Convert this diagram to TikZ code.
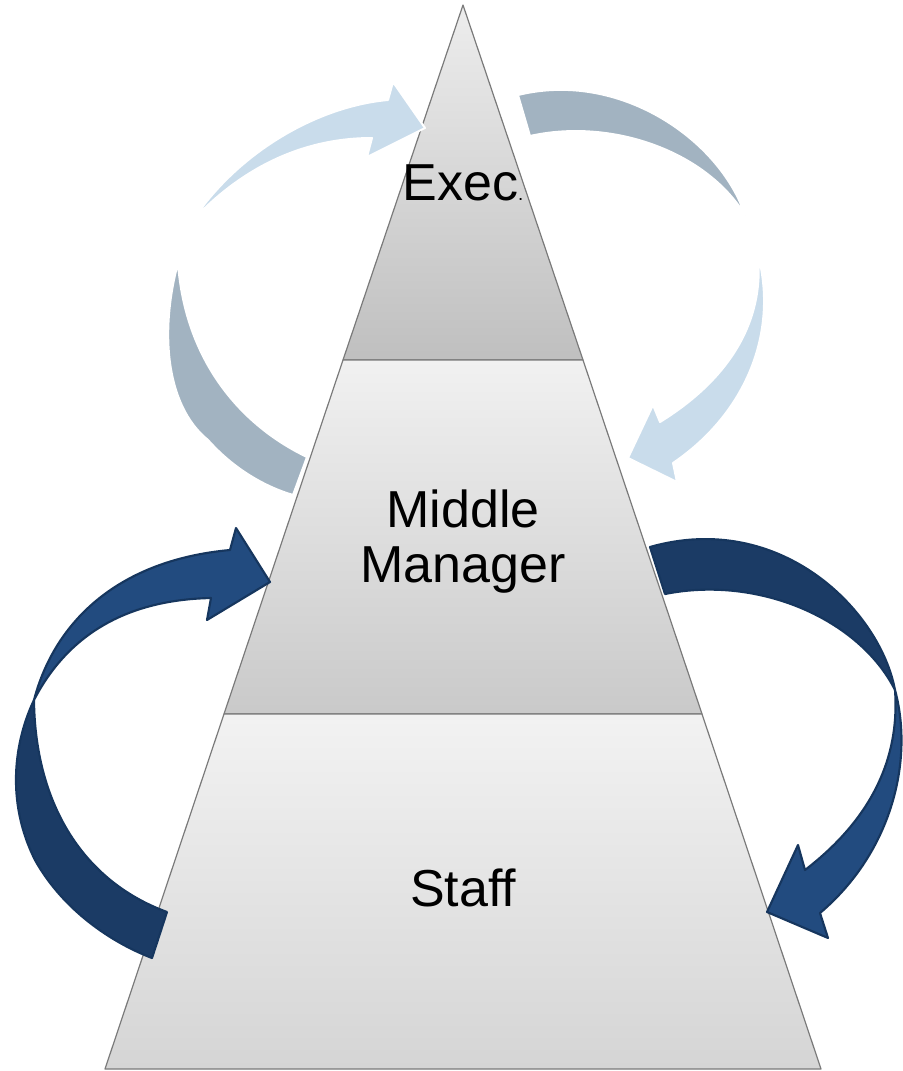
\documentclass[tikz,border=0pt]{standalone}
\usepackage{fontspec}
\setmainfont{Liberation Sans}
\definecolor{tierline}{HTML}{7A7A7A}
\definecolor{lightblue}{HTML}{C9DCEB}
\definecolor{slateblue}{HTML}{A2B3C1}
\definecolor{navyfront}{HTML}{224B7F}
\definecolor{navyback}{HTML}{1B3B65}
\definecolor{navyedge}{HTML}{16365E}
\begin{document}
\begin{tikzpicture}[x=0.75pt,y=-0.75pt,
  tier/.style={draw=tierline, line width=0.9pt, line join=round},
  label/.style={font=\fontsize{39}{41.25}\selectfont, text=black, align=center, inner sep=0pt},
  softarrow/.style={draw=white, line width=1.5pt, line join=round},
  navyarrow/.style={draw=navyedge, line width=1.6pt, line join=round}]
\useasboundingbox (0,0) rectangle (903,1071);

% pyramid corners
\coordinate (apex) at (463,5);
\coordinate (l1) at (343,360); \coordinate (r1) at (583,360);
\coordinate (l2) at (224,714); \coordinate (r2) at (702,714);
\coordinate (l3) at (105,1069); \coordinate (r3) at (821,1069);

% three tiers
\shade[tier, top color=gray!14, bottom color=gray!50] (apex) -- (r1) -- (l1) -- cycle;
\shade[tier, top color=gray!11, bottom color=gray!42] (l1) -- (r1) -- (r2) -- (l2) -- cycle;
\shade[tier, top color=gray!10, bottom color=gray!33] (l2) -- (r2) -- (r3) -- (l3) -- cycle;

% tier labels
\node[label, anchor=base] (exec) at (463,200) {Exec{\fontsize{14}{14}\selectfont.}};
\node[label, anchor=base] (middle) at (463,582) {Middle\\Manager};
\node[label, anchor=base] (staff) at (463,906) {Staff};

% upper-left loop: slate tail rising from the middle tier
\fill[slateblue, softarrow] (293,495) -- (307,457)
  .. controls (240,425) and (185,360) .. (178,263)
  .. controls (160,330) and (165,405) .. (208,440)
  .. controls (233,468) and (263,486) .. (293,495) -- cycle;
% upper-left loop: light head entering the top tier
\fill[lightblue, softarrow] (193,220)
  .. controls (240,150) and (320,106) .. (388,100)
  -- (393,82) -- (425,128) -- (367,157) -- (372,138)
  .. controls (300,138) and (240,170) .. (193,220) -- cycle;

% upper-right loop: slate tail leaving the top tier
\fill[slateblue, softarrow] (518,95) -- (530,136)
  .. controls (610,118) and (705,150) .. (745,215)
  .. controls (720,140) and (620,70) .. (518,95) -- cycle;
% upper-right loop: light head entering the middle tier
\fill[lightblue, softarrow] (758,255)
  .. controls (778,330) and (748,412) .. (673,463)
  -- (677,482) -- (628,458) -- (653,405) -- (660,422)
  .. controls (720,385) and (765,330) .. (758,255) -- cycle;

% lower-left arrow: darker back part from the staff tier
\fill[navyback, navyarrow] (152,958) -- (167,912)
  .. controls (80,880) and (35,800) .. (34,700)
  .. controls (15,740) and (5,800) .. (35,860)
  .. controls (60,905) and (105,940) .. (152,958) -- cycle;
% lower-left arrow: front part ending in the head
\fill[navyfront, navyarrow] (34,700)
  .. controls (55,620) and (120,560) .. (230,550)
  -- (236,528) -- (270,582) -- (207,620) -- (211,598)
  .. controls (120,600) and (65,640) .. (34,700) -- cycle;

% lower-right arrow: darker back part from the middle tier
\fill[navyback, navyarrow] (650,547) -- (665,594)
  .. controls (760,575) and (860,620) .. (895,690)
  .. controls (880,610) and (780,510) .. (650,547) -- cycle;
% lower-right arrow: front part ending in the head
\fill[navyfront, navyarrow] (895,690)
  .. controls (914,760) and (892,852) .. (820,913)
  -- (828,938) -- (767,912) -- (798,845) -- (805,870)
  .. controls (870,820) and (900,760) .. (895,690) -- cycle;
\end{tikzpicture}
\end{document}
